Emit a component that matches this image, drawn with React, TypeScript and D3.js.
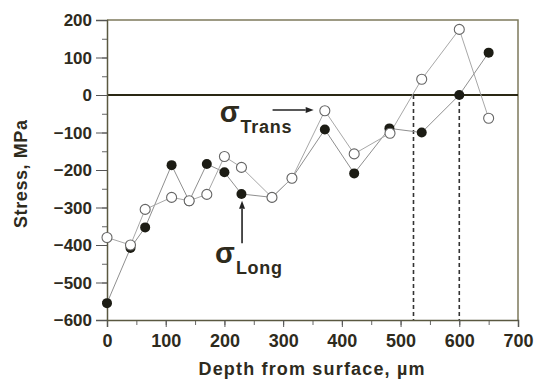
import React, { useEffect, useRef } from 'react';
import * as d3 from 'd3';

// depth (µm) and stress (MPa)
const transDepth = [0, 40, 65, 110, 140, 170, 200, 229, 281, 315, 371, 421, 482, 536, 600, 650];
const transStress = [-380, -400, -305, -273, -282, -265, -164, -193, -273, -222, -42, -157, -102, 42, 175, -62];
const longDepth = [0, 40, 65, 110, 140, 170, 200, 229, 281, 315, 371, 421, 481, 536, 600, 650];
const longStress = [-555, -408, -353, -187, -283, -184, -206, -264, -273, -222, -92, -209, -89, -100, 0, 113];
const crossDepths = [522, 600];
const xTicks = [0, 100, 200, 300, 400, 500, 600, 700];
const yTicks = [-600, -500, -400, -300, -200, -100, 0, 100, 200];

const W = 537;
const H = 381;
const ink = '#2e2b1d';

const App: React.FC = () => {
  const svgRef = useRef<SVGSVGElement>(null);

  useEffect(() => {
    if (!svgRef.current) return;
    const svg = d3.select(svgRef.current);
    svg.selectAll('*').remove();

    const margin = { top: 20, right: 19, bottom: 61, left: 107 };
    const x = d3.scaleLinear().domain([0, 700]).range([margin.left, W - margin.right]);
    const y = d3.scaleLinear().domain([-600, 200]).range([H - margin.bottom, margin.top]);
    const font = 'Arial, "Liberation Sans", sans-serif';

    // frame (top / right)
    svg.append('path')
      .attr('d', `M${x(0)},${y(200)}H${x(700)}V${y(-600)}`)
      .attr('fill', 'none')
      .attr('stroke', '#7d7a5c')
      .attr('stroke-width', 1.5);

    // zero line
    svg.append('line')
      .attr('x1', x(0)).attr('x2', x(700))
      .attr('y1', y(0)).attr('y2', y(0))
      .attr('stroke', '#2a2814')
      .attr('stroke-width', 2);

    // dashed crossing markers
    svg.selectAll('.cross')
      .data(crossDepths)
      .enter().append('line')
      .attr('x1', d => x(d)).attr('x2', d => x(d))
      .attr('y1', y(0)).attr('y2', y(-600))
      .attr('stroke', '#333')
      .attr('stroke-width', 1.6)
      .attr('stroke-dasharray', '4,3');

    // axes
    const xAxis = svg.append('g')
      .attr('transform', `translate(0,${y(-600)})`)
      .call(d3.axisBottom(x).tickValues(d3.range(0, 701, 50)).tickSize(5).tickFormat(() => ''));
    xAxis.selectAll('.tick line').attr('stroke', '#666');
    const xMaj = svg.append('g')
      .attr('transform', `translate(0,${y(-600)})`)
      .call(d3.axisBottom(x).tickValues(xTicks).tickSize(7).tickFormat(d3.format('d')));
    xMaj.select('.domain').attr('stroke', '#5a5840').attr('stroke-width', 1.5);
    xMaj.selectAll('.tick line').attr('stroke', '#555');
    xMaj.selectAll('.tick text')
      .attr('y', 27).attr('dy', 0)
      .style('font-family', font).style('font-size', '18px').style('font-weight', 'bold')
      .attr('fill', ink);

    const yAxis = svg.append('g')
      .attr('transform', `translate(${x(0)},0)`)
      .call(d3.axisLeft(y).tickValues(d3.range(-600, 201, 50)).tickSize(5).tickFormat(() => ''));
    yAxis.selectAll('.tick line').attr('stroke', '#666');
    const yMaj = svg.append('g')
      .attr('transform', `translate(${x(0)},0)`)
      .call(d3.axisLeft(y).tickValues(yTicks).tickSize(11).tickPadding(4).tickFormat(d3.format('d')));
    yMaj.select('.domain').attr('stroke', '#5a5840').attr('stroke-width', 1.5);
    yMaj.selectAll('.tick line').attr('stroke', '#555');
    yMaj.selectAll('.tick text')
      .attr('dy', '0.35em')
      .style('font-family', font).style('font-size', '17px').style('font-weight', 'bold')
      .attr('fill', ink);
    svg.selectAll('.domain').filter(function () { return !(this as any).getAttribute('stroke-width'); })
      .attr('stroke', 'none');

    // series
    const trans = transDepth.map((d, i) => [d, transStress[i]] as [number, number]);
    const long = longDepth.map((d, i) => [d, longStress[i]] as [number, number]);
    const line = d3.line<[number, number]>().x(d => x(d[0])).y(d => y(d[1]));

    svg.append('path').attr('d', line(long)).attr('fill', 'none')
      .attr('stroke', '#8f8f8f').attr('stroke-width', 1);
    svg.append('path').attr('d', line(trans)).attr('fill', 'none')
      .attr('stroke', '#a8a8a8').attr('stroke-width', 1);

    svg.selectAll('.long')
      .data(long)
      .enter().append('circle')
      .attr('cx', d => x(d[0])).attr('cy', d => y(d[1]))
      .attr('r', 5)
      .attr('fill', '#1c1c14');
    svg.selectAll('.trans')
      .data(trans)
      .enter().append('circle')
      .attr('cx', d => x(d[0])).attr('cy', d => y(d[1]))
      .attr('r', 5)
      .attr('fill', '#fff')
      .attr('stroke', '#666')
      .attr('stroke-width', 1.1);

    // annotations
    const arrow = (x1: number, y1: number, x2: number, y2: number) => {
      const ang = Math.atan2(y2 - y1, x2 - x1);
      const len = 8;
      const bx = x2 - len * Math.cos(ang);
      const by = y2 - len * Math.sin(ang);
      svg.append('line')
        .attr('x1', x1).attr('y1', y1).attr('x2', bx).attr('y2', by)
        .attr('stroke', '#222').attr('stroke-width', 1.6);
      const px = -Math.sin(ang) * 3;
      const py = Math.cos(ang) * 3;
      svg.append('path')
        .attr('d', `M${x2},${y2}L${bx + px},${by + py}L${bx - px},${by - py}Z`)
        .attr('fill', '#222');
    };
    arrow(x(282), y(-40), x(352), y(-40));
    arrow(x(230), y(-395), x(230), y(-282));

    const label = (depth: number, stress: number, sub: string, subLen: number) => {
      const t = svg.append('text')
        .attr('x', x(depth)).attr('y', y(stress))
        .style('font-family', font).style('font-weight', 'bold')
        .attr('fill', ink);
      t.append('tspan').style('font-size', '29px').text('σ');
      t.append('tspan').style('font-size', '18px').attr('dy', 11).attr('dx', 1)
        .attr('textLength', subLen).text(sub);
    };
    label(192, -72, 'Trans', 51);
    label(184, -449, 'Long', 46);

    // axis titles
    svg.append('text')
      .attr('x', (x(0) + x(700)) / 2 - 1)
      .attr('y', 375)
      .attr('text-anchor', 'middle')
      .attr('textLength', 226)
      .style('font-family', font).style('font-size', '18px').style('font-weight', 'bold')
      .attr('fill', ink)
      .text('Depth from surface, µm');

    svg.append('text')
      .attr('transform', `translate(27,${(y(-600) + y(200)) / 2 + 4}) rotate(-90)`)
      .attr('text-anchor', 'middle')
      .attr('textLength', 108)
      .style('font-family', font).style('font-size', '18px').style('font-weight', 'bold')
      .attr('fill', ink)
      .text('Stress, MPa');
  }, []);

  return (
    <div style={{ position: 'fixed', left: 0, top: 0, width: W, height: H, background: '#fff' }}>
      <svg ref={svgRef} width={W} height={H}></svg>
    </div>
  );
};

export default App;
